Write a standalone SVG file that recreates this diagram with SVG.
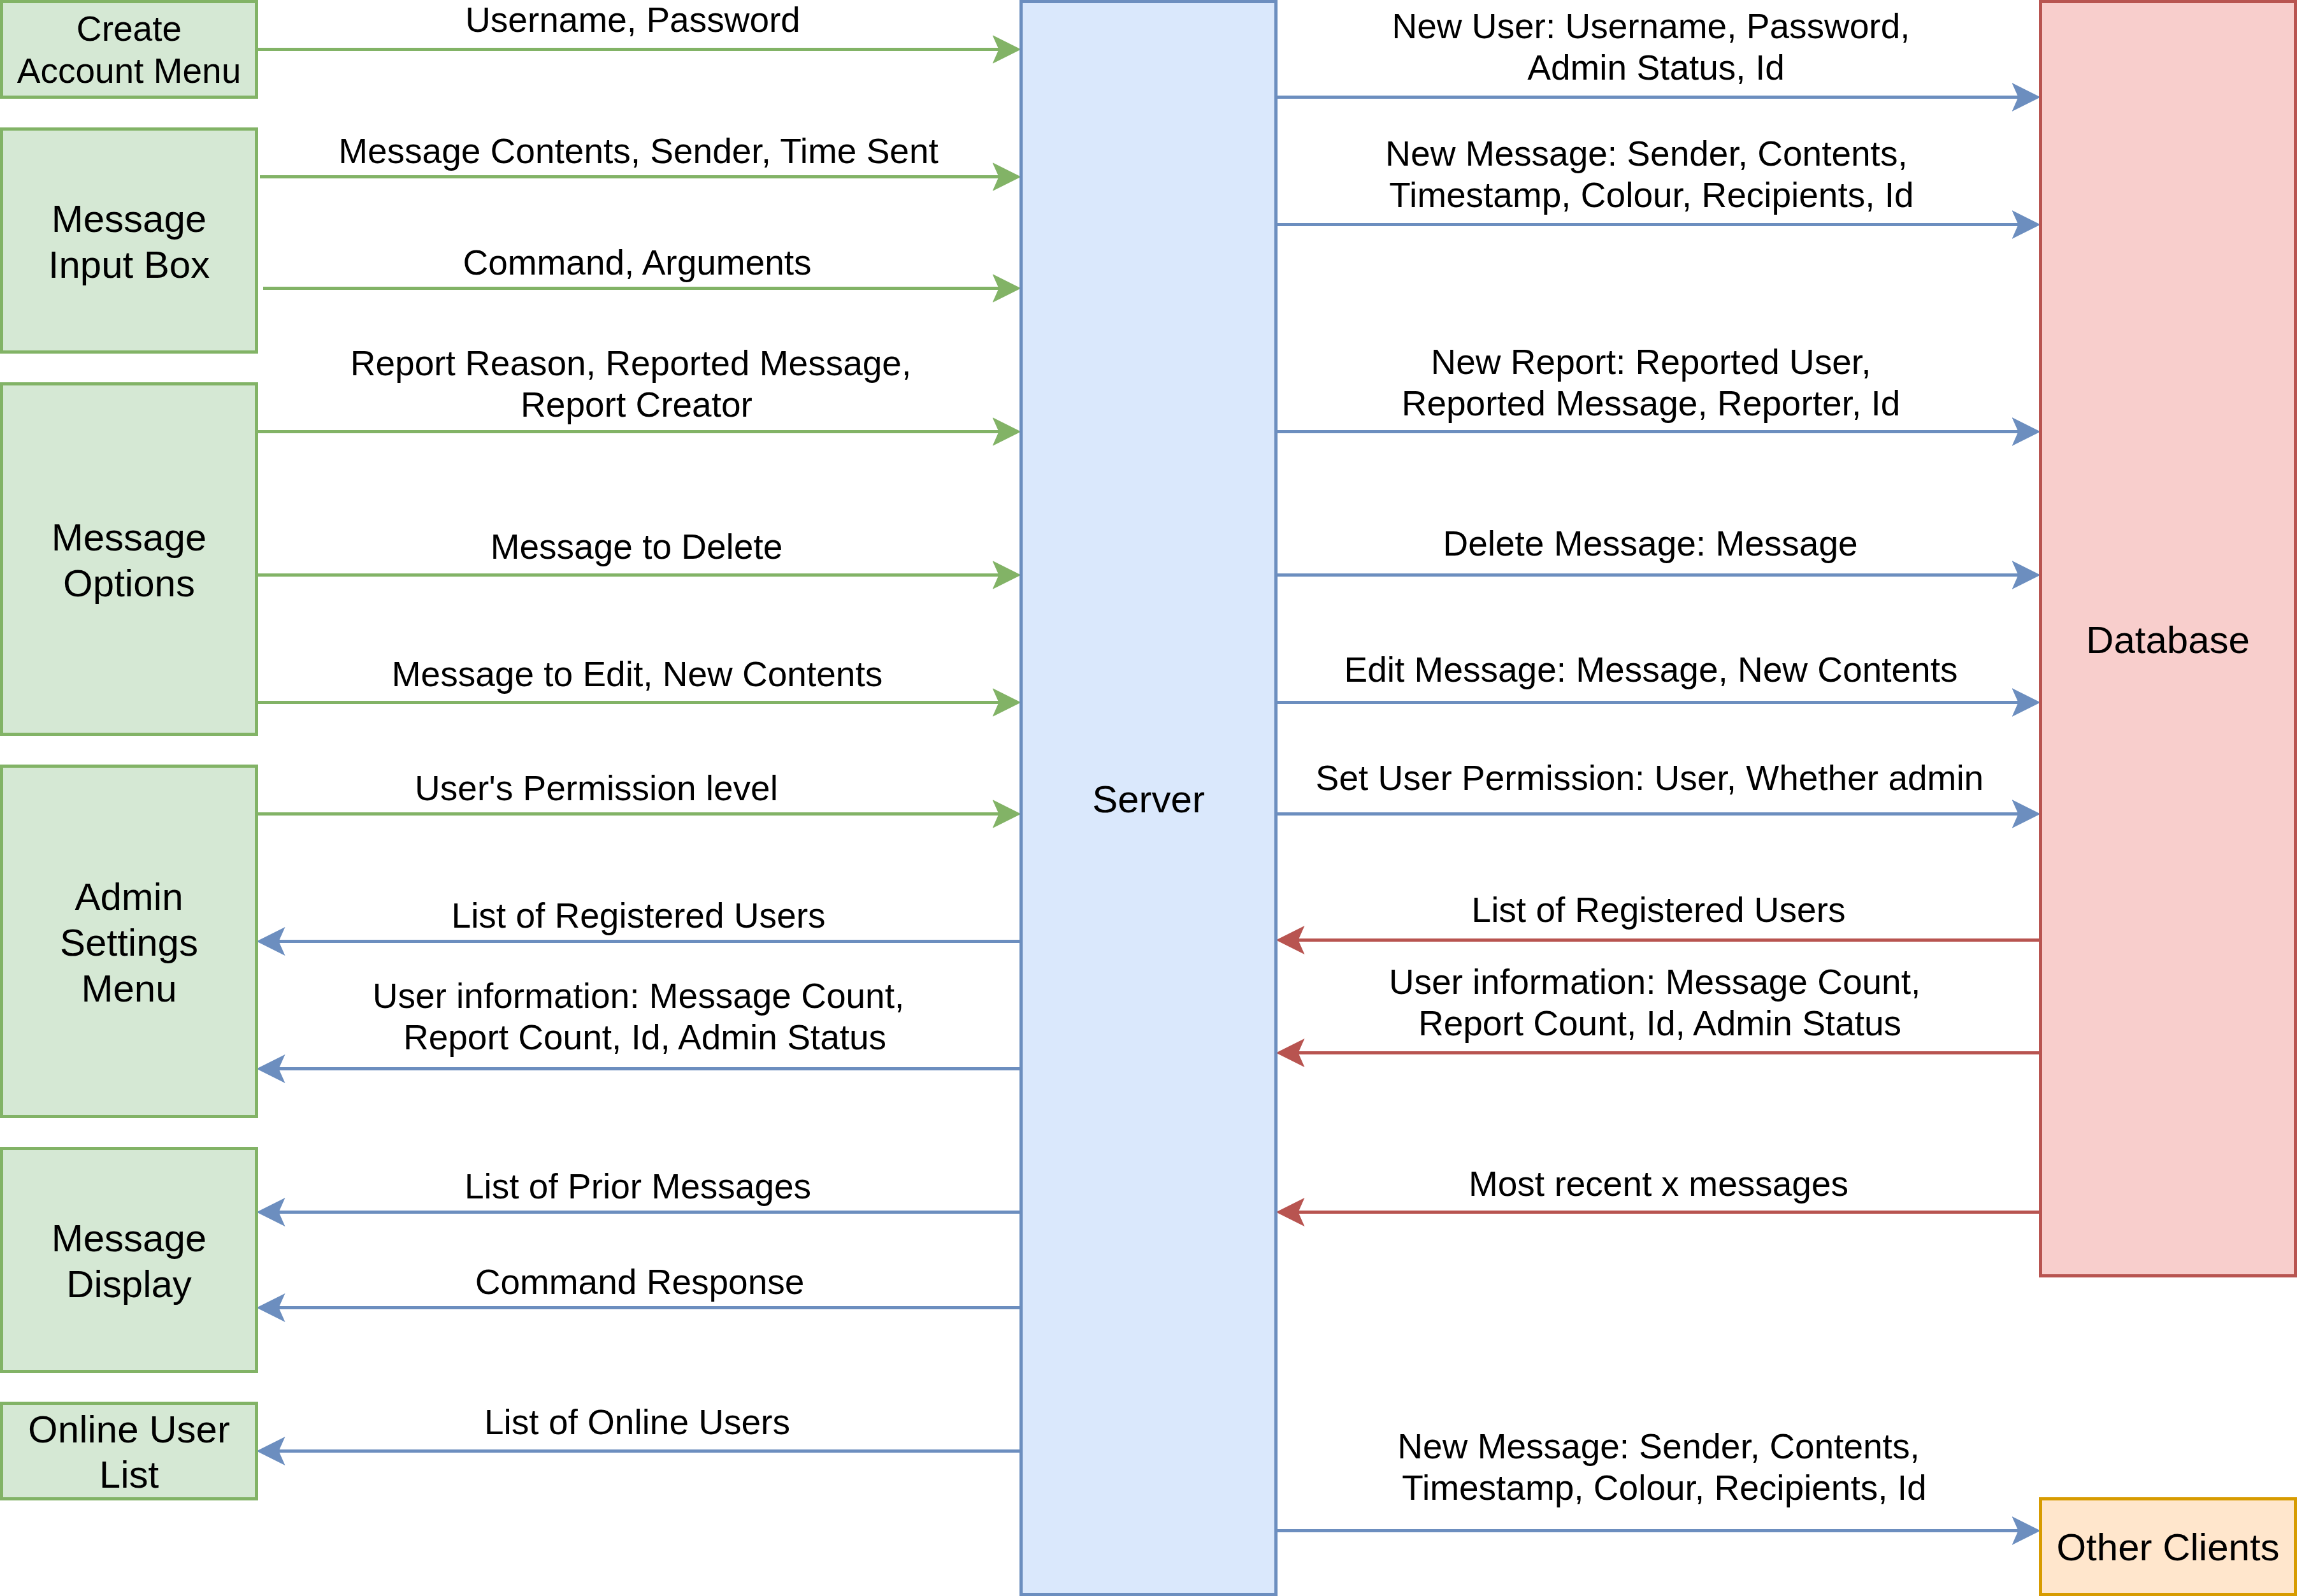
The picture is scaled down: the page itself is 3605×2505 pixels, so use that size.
<svg xmlns="http://www.w3.org/2000/svg" width="3605" height="2505" viewBox="0 0 3605 2505">
<style>
text{font-family:"Liberation Sans",Arial,sans-serif;fill:#000;text-anchor:middle}
.n{font-size:60px}
.e{font-size:55px}
.g rect{fill:#d5e8d4;stroke:#82b366;stroke-width:5}
.b rect{fill:#dae8fc;stroke:#6c8ebf;stroke-width:5}
.r rect{fill:#f8cecc;stroke:#b85450;stroke-width:5}
.o rect{fill:#ffe6cc;stroke:#d79b00;stroke-width:5}
.lg{stroke:#82b366;stroke-width:5;fill:none;marker-end:url(#ag)}
.lb{stroke:#6c8ebf;stroke-width:5;fill:none;marker-end:url(#ab)}
.lr{stroke:#b85450;stroke-width:5;fill:none;marker-end:url(#ar)}
</style>
<defs>
<marker id="ag" markerUnits="userSpaceOnUse" viewBox="-45 -22.5 45 45" markerWidth="45" markerHeight="45" refX="-30" refY="0" orient="auto"><path d="M0,0 L-45,-22.5 L-35,0 L-45,22.5 Z" fill="#82b366"/></marker>
<marker id="ab" markerUnits="userSpaceOnUse" viewBox="-45 -22.5 45 45" markerWidth="45" markerHeight="45" refX="-30" refY="0" orient="auto"><path d="M0,0 L-45,-22.5 L-35,0 L-45,22.5 Z" fill="#6c8ebf"/></marker>
<marker id="ar" markerUnits="userSpaceOnUse" viewBox="-45 -22.5 45 45" markerWidth="45" markerHeight="45" refX="-30" refY="0" orient="auto"><path d="M0,0 L-45,-22.5 L-35,0 L-45,22.5 Z" fill="#b85450"/></marker>
</defs>
<rect x="0" y="0" width="3605" height="2505" fill="#fff"/>

<g id="connectors">
<path class="lg" d="M405 77.5H1572.5"/>
<path class="lg" d="M408 277.5H1572.5"/>
<path class="lg" d="M413 452.5H1572.5"/>
<path class="lg" d="M402.5 677.5H1572.5"/>
<path class="lg" d="M402.5 902.5H1572.5"/>
<path class="lg" d="M402.5 1102.5H1572.5"/>
<path class="lg" d="M402.5 1277.5H1572.5"/>
<path class="lb" d="M1602.5 1477.5H432.5"/>
<path class="lb" d="M1602.5 1677.5H432.5"/>
<path class="lb" d="M1602.5 1902.5H432.5"/>
<path class="lb" d="M1602.5 2052.5H432.5"/>
<path class="lb" d="M1602.5 2277.5H432.5"/>
<path class="lb" d="M2002.5 152.5H3172.5"/>
<path class="lb" d="M2002.5 352.5H3172.5"/>
<path class="lb" d="M2002.5 677.5H3172.5"/>
<path class="lb" d="M2002.5 902.5H3172.5"/>
<path class="lb" d="M2002.5 1102.5H3172.5"/>
<path class="lb" d="M2002.5 1277.5H3172.5"/>
<path class="lr" d="M3202.5 1475.5H2032.5"/>
<path class="lr" d="M3202.5 1652.5H2032.5"/>
<path class="lr" d="M3202.5 1902.5H2032.5"/>
<path class="lb" d="M2002.5 2402.5H3172.5"/>
<g class="labels">
<text class="e" x="993" y="50">Username, Password</text>
<text class="e" x="1002" y="256">Message Contents, Sender, Time Sent</text>
<text class="e" x="1000" y="431">Command, Arguments</text>
<text class="e" x="990" y="589">Report Reason, Reported Message,</text>
<text class="e" x="999" y="654">Report Creator</text>
<text class="e" x="999" y="877">Message to Delete</text>
<text class="e" x="1000" y="1077">Message to Edit, New Contents</text>
<text class="e" x="936" y="1256">User's Permission level</text>
<text class="e" x="1002" y="1456">List of Registered Users</text>
<text class="e" x="1002" y="1582">User information: Message Count,</text>
<text class="e" x="1012" y="1647">Report Count, Id, Admin Status</text>
<text class="e" x="1001" y="1881">List of Prior Messages</text>
<text class="e" x="1004" y="2031">Command Response</text>
<text class="e" x="1000" y="2251">List of Online Users</text>
<text class="e" x="2591" y="60">New User: Username, Password,</text>
<text class="e" x="2599" y="125">Admin Status, Id</text>
<text class="e" x="2584" y="260">New Message: Sender, Contents,</text>
<text class="e" x="2592" y="325">Timestamp, Colour, Recipients, Id</text>
<text class="e" x="2591" y="587">New Report: Reported User,</text>
<text class="e" x="2591" y="652">Reported Message, Reporter, Id</text>
<text class="e" x="2590" y="872">Delete Message: Message</text>
<text class="e" x="2591" y="1070">Edit Message: Message, New Contents</text>
<text class="e" x="2589" y="1240">Set User Permission: User, Whether admin</text>
<text class="e" x="2603" y="1447">List of Registered Users</text>
<text class="e" x="2597" y="1560">User information: Message Count,</text>
<text class="e" x="2605" y="1625">Report Count, Id, Admin Status</text>
<text class="e" x="2603" y="1877">Most recent x messages</text>
<text class="e" x="2603" y="2289">New Message: Sender, Contents,</text>
<text class="e" x="2612" y="2354">Timestamp, Colour, Recipients, Id</text>
</g>
</g>

<g id="create-account-menu" class="g">
<rect x="2.5" y="2.5" width="400" height="150"/>
<text class="e" x="202.5" y="64">Create</text>
<text class="e" x="202.5" y="129.5">Account Menu</text>
</g>
<g id="message-input-box" class="g">
<rect x="2.5" y="202.5" width="400" height="350"/>
<text class="n" x="202.5" y="363.5">Message</text>
<text class="n" x="202.5" y="435.5">Input Box</text>
</g>
<g id="message-options" class="g">
<rect x="2.5" y="602.5" width="400" height="550"/>
<text class="n" x="202.5" y="863.5">Message</text>
<text class="n" x="202.5" y="935.5">Options</text>
</g>
<g id="admin-settings-menu" class="g">
<rect x="2.5" y="1202.5" width="400" height="550"/>
<text class="n" x="202.5" y="1427.5">Admin</text>
<text class="n" x="202.5" y="1499.5">Settings</text>
<text class="n" x="202.5" y="1571.5">Menu</text>
</g>
<g id="message-display" class="g">
<rect x="2.5" y="1802.5" width="400" height="350"/>
<text class="n" x="202.5" y="1963.5">Message</text>
<text class="n" x="202.5" y="2035.5">Display</text>
</g>
<g id="online-user-list" class="g">
<rect x="2.5" y="2202.5" width="400" height="150"/>
<text class="n" x="202.5" y="2264">Online User</text>
<text class="n" x="202.5" y="2335">List</text>
</g>
<g id="server" class="b">
<rect x="1602.5" y="2.5" width="400" height="2500"/>
<text class="n" x="1802.5" y="1274.5">Server</text>
</g>
<g id="database" class="r">
<rect x="3202.5" y="2.5" width="400" height="2000"/>
<text class="n" x="3402.5" y="1024.5">Database</text>
</g>
<g id="other-clients" class="o">
<rect x="3202.5" y="2352.5" width="400" height="150"/>
<text class="n" x="3402.5" y="2449">Other Clients</text>
</g>
</svg>
